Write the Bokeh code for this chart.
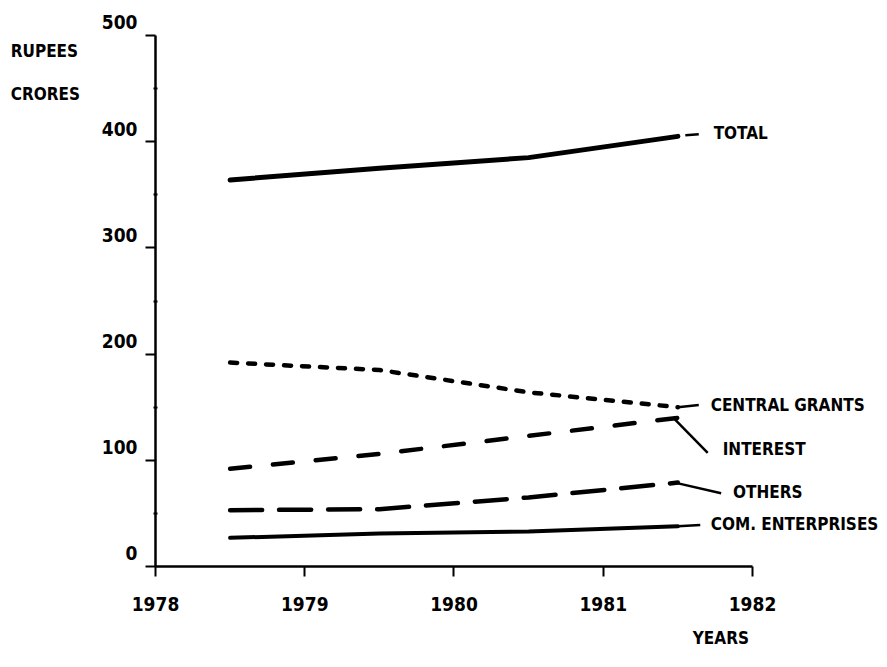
from bokeh.plotting import figure
from bokeh.models import Range1d, FixedTicker, Label
from bokeh.embed import file_html
from bokeh.resources import INLINE

# ---- data (Rupees crores) ----
years = [1978.5, 1979.5, 1980.5, 1981.5]
total = [364, 375, 385, 405]
central_grants = [192, 185, 164, 150]
interest = [92, 106, 123, 140]
others = [53, 54, 65, 79]
com_enterprises = [27, 31, 33, 38]

year_ticks = [1978, 1979, 1980, 1981, 1982]
value_ticks = [0, 100, 200, 300, 400, 500]
minor_value_ticks = [50, 150, 250, 350, 450]

series_names = ["TOTAL", "CENTRAL GRANTS", "INTEREST", "OTHERS", "COM. ENTERPRISES"]

FONT = "DejaVu Sans Condensed, Liberation Sans"

p = figure(width=879, height=651, output_backend="svg", toolbar_location=None,
           x_range=Range1d(1978, 1982.851), y_range=Range1d(0, 500),
           min_border_left=155, min_border_right=0,
           min_border_top=35, min_border_bottom=85)
p.outline_line_color = None
p.grid.visible = False
p.background_fill_color = "white"
p.border_fill_color = "white"

# axes
for ax in (p.xaxis, p.yaxis):
    ax.axis_line_width = 2.5
    ax.axis_line_color = "black"
    ax.major_tick_line_width = 2
    ax.major_tick_line_color = "black"
    ax.major_tick_in = 0
    ax.major_tick_out = 10
    ax.major_label_text_font = FONT
    ax.major_label_text_font_style = "bold"
    ax.major_label_text_font_size = "19px"
    ax.major_label_text_color = "black"

p.xaxis.ticker = FixedTicker(ticks=year_ticks)
p.xaxis.bounds = (1978, 1982)
p.xaxis.minor_tick_line_color = None
p.xaxis.major_label_standoff = 20

p.yaxis.ticker = FixedTicker(ticks=value_ticks, minor_ticks=minor_value_ticks)
p.yaxis.minor_tick_in = 2
p.yaxis.minor_tick_out = 2
p.yaxis.minor_tick_line_width = 2
p.yaxis.minor_tick_line_color = "black"
p.yaxis.major_label_standoff = 8
# labels sit just above their tick marks, as in the original
p.yaxis.major_label_overrides = {v: f"{v}\n" for v in value_ticks}

# series lines
p.line(years, total, line_width=5, line_color="black", line_cap="round")
p.line(years, central_grants, line_width=4.5, line_color="black",
       line_dash="7 11", line_cap="round")
p.line(years, interest, line_width=4.5, line_color="black",
       line_dash="20 23", line_cap="round")
p.line(years, others, line_width=4.5, line_color="black",
       line_dash="32 17", line_cap="round")
p.line(years, com_enterprises, line_width=4, line_color="black", line_cap="round")

# leader lines from series ends to their labels
lead_x0 = [1981.55, 1981.5, 1981.47, 1981.48, 1981.5]
lead_y0 = [406, 150, 140, 79, 38]
lead_x1 = [1981.64, 1981.64, 1981.70, 1981.79, 1981.65]
lead_y1 = [407, 152, 107, 69, 39]
p.segment(lead_x0, lead_y0, lead_x1, lead_y1, line_color="black", line_width=2.5)

# series labels
lab_x = [1981.74, 1981.72, 1981.80, 1981.87, 1981.72]
lab_y = [408, 152, 111, 70, 40]
for name, lx, ly in zip(series_names, lab_x, lab_y):
    p.add_layout(Label(x=lx, y=ly, text=name, text_font=FONT, text_font_style="bold",
                       text_font_size="17px", text_baseline="middle", text_align="left",
                       text_color="black"))

# axis titles (in the side panels, so they are not clipped by the frame)
p.add_layout(Label(x=1977.03, y=464.7, text="RUPEES\nCRORES", text_font=FONT,
                   text_font_style="bold", text_font_size="17px", text_line_height=2.15,
                   text_baseline="middle", text_align="left", text_color="black"), "left")
p.add_layout(Label(x=1981.60, y=-67, text="YEARS", text_font=FONT,
                   text_font_style="bold", text_font_size="17px",
                   text_baseline="middle", text_align="left", text_color="black"), "below")

open("out.html", "w").write(file_html(p, INLINE))
